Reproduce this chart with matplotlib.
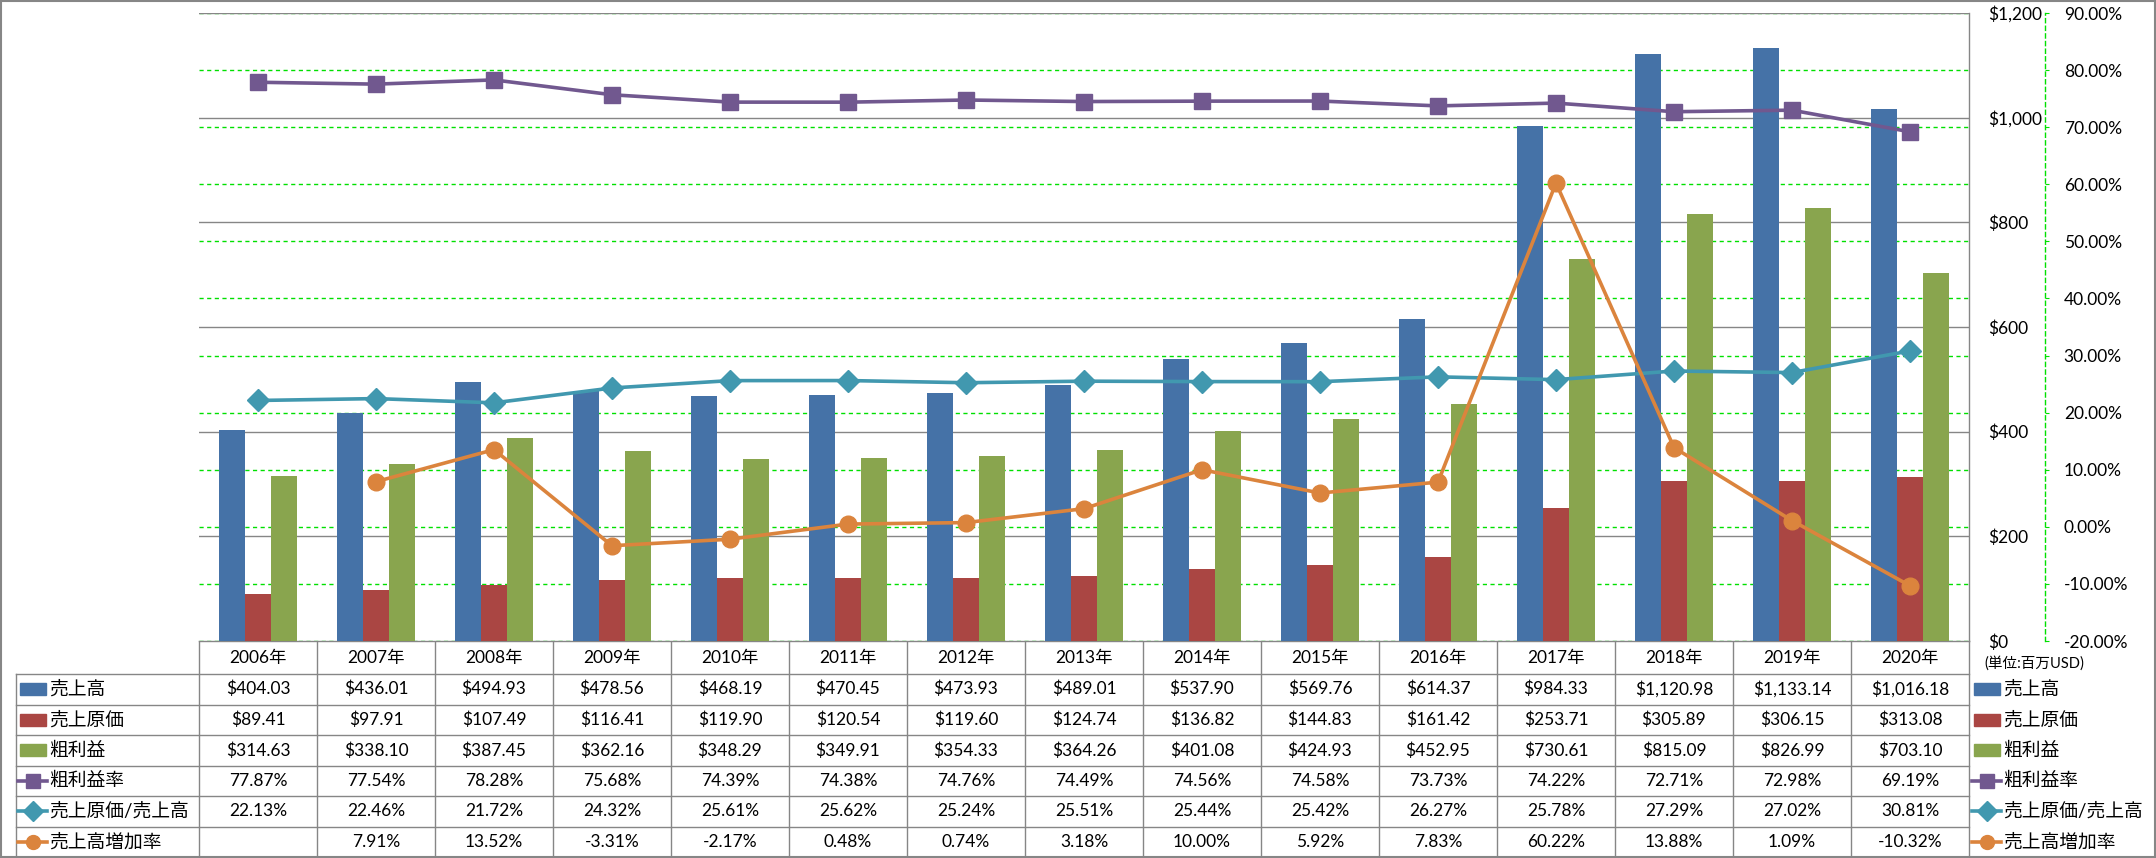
import numpy as np
import matplotlib
matplotlib.use("Agg")
import matplotlib.pyplot as plt
from matplotlib.patches import Rectangle
from matplotlib.lines import Line2D

plt.rcParams['font.family'] = ['Lato', 'Noto Sans CJK JP', 'DejaVu Sans']

years = ["2006年", "2007年", "2008年", "2009年", "2010年", "2011年", "2012年", "2013年",
         "2014年", "2015年", "2016年", "2017年", "2018年", "2019年", "2020年"]
sales = [404.03, 436.01, 494.93, 478.56, 468.19, 470.45, 473.93, 489.01,
         537.90, 569.76, 614.37, 984.33, 1120.98, 1133.14, 1016.18]
cogs = [89.41, 97.91, 107.49, 116.41, 119.90, 120.54, 119.60, 124.74,
        136.82, 144.83, 161.42, 253.71, 305.89, 306.15, 313.08]
gross = [314.63, 338.10, 387.45, 362.16, 348.29, 349.91, 354.33, 364.26,
         401.08, 424.93, 452.95, 730.61, 815.09, 826.99, 703.10]
gm_rate = [77.87, 77.54, 78.28, 75.68, 74.39, 74.38, 74.76, 74.49,
           74.56, 74.58, 73.73, 74.22, 72.71, 72.98, 69.19]
cogs_rate = [22.13, 22.46, 21.72, 24.32, 25.61, 25.62, 25.24, 25.51,
             25.44, 25.42, 26.27, 25.78, 27.29, 27.02, 30.81]
growth = [None, 7.91, 13.52, -3.31, -2.17, 0.48, 0.74, 3.18,
          10.00, 5.92, 7.83, 60.22, 13.88, 1.09, -10.32]

names = ["売上高", "売上原価", "粗利益", "粗利益率", "売上原価/売上高", "売上高増加率"]
usd_ticks = [0, 200, 400, 600, 800, 1000, 1200]
pct_ticks = [-20, -10, 0, 10, 20, 30, 40, 50, 60, 70, 80, 90]

C_BLUE = "#4572A7"
C_RED = "#AA4643"
C_GREEN = "#89A54E"
C_PURPLE = "#71588F"
C_AQUA = "#4198AF"
C_ORANGE = "#DB843D"
GRAY = "#868686"
GRID_GREEN = "#00E000"

W, H = 2156, 858
PL, PR, PT, PB = 199, 1969, 13, 641
LABEL_L = 16
HEAD_H = 33
ROW_H = (857 - PB - HEAD_H) / 6
n = len(years)
colw = (PR - PL) / n
FS = 12.5

fig = plt.figure(figsize=(W / 100, H / 100), dpi=100)

# table / frame layer
tab = fig.add_axes([0, 0, 1, 1])
tab.set_xlim(0, W)
tab.set_ylim(H, 0)
tab.axis('off')
tab.patch.set_visible(False)

ax = fig.add_axes([PL / W, 1 - PB / H, (PR - PL) / W, (PB - PT) / H])
ax2 = ax.twinx()

x = np.arange(n)
bw = 0.222
ax.bar(x - bw, sales, bw, color=C_BLUE, zorder=2)
ax.bar(x, cogs, bw, color=C_RED, zorder=2)
ax.bar(x + bw, gross, bw, color=C_GREEN, zorder=2)

# green dashed gridlines of the % axis, drawn behind bars and gray grid
for p in pct_ticks:
    yy = (p - pct_ticks[0]) / (pct_ticks[-1] - pct_ticks[0]) * usd_ticks[-1]
    ax.axhline(yy, color=GRID_GREEN, lw=1.0, ls=(0, (3, 2.5)), zorder=0.3)

ax.set_xlim(-0.5, n - 0.5)
ax.set_ylim(usd_ticks[0], usd_ticks[-1])
ax.yaxis.tick_right()
ax.set_yticks(usd_ticks, labels=["${:,.0f}".format(v) for v in usd_ticks])
ax.tick_params(axis='y', length=0, pad=13.5, labelsize=FS)
ax.tick_params(axis='x', bottom=False, labelbottom=False)
ax.grid(axis='y', color=GRAY, lw=1.0)
ax.set_axisbelow(True)
for s in ['top', 'left', 'bottom']:
    ax.spines[s].set_visible(False)
ax.spines['right'].set_color(GRAY)
ax.spines['right'].set_linewidth(1.0)

lw = 2.6
ax2.plot(x, gm_rate, color=C_PURPLE, lw=lw, marker='s', ms=12, mec=C_PURPLE, zorder=3)
ax2.plot(x, cogs_rate, color=C_AQUA, lw=lw, marker='D', ms=11.5, mec=C_AQUA, zorder=3)
gr = np.array([np.nan if v is None else v for v in growth])
ax2.plot(x, gr, color=C_ORANGE, lw=lw, marker='o', ms=12, mec=C_ORANGE, zorder=3)

ax2.set_xlim(-0.5, n - 0.5)
ax2.set_ylim(pct_ticks[0], pct_ticks[-1])
ax2.set_yticks(pct_ticks, labels=["{:.2f}%".format(v) for v in pct_ticks])
for lbl, v in zip(ax2.get_yticklabels(), pct_ticks):
    if v < 0:
        lbl.set_color("#FF0000")
ax2.tick_params(axis='y', direction='out', length=3, color=GRID_GREEN, pad=10.5, labelsize=FS)
for s in ['top', 'left', 'bottom']:
    ax2.spines[s].set_visible(False)
ax2.spines['right'].set_position(('outward', 76 * 0.72))
ax2.spines['right'].set_color(GRID_GREEN)
ax2.spines['right'].set_linestyle((0, (3, 2.5)))
ax2.spines['right'].set_linewidth(1.0)

# data table
tl = dict(color=GRAY, lw=1.0)
tab.plot([PL, PR], [PB, PB], **tl)
for r in range(7):
    yy = PB + HEAD_H + r * ROW_H
    tab.plot([LABEL_L, PR], [yy, yy], **tl)
for k in range(n + 1):
    xx = PL + k * colw
    tab.plot([xx, xx], [PB, 857], **tl)
tab.plot([LABEL_L, LABEL_L], [PB + HEAD_H, 857], **tl)

for i, yl in enumerate(years):
    tab.text(PL + (i + 0.5) * colw, PB + HEAD_H / 2, yl, ha='center', va='center', fontsize=FS)

def fmt_usd(v):
    return "${:,.2f}".format(v)

def fmt_pct(v):
    return "" if v is None else "{:.2f}%".format(v)

rows = [(sales, fmt_usd), (cogs, fmt_usd), (gross, fmt_usd),
        (gm_rate, fmt_pct), (cogs_rate, fmt_pct), (growth, fmt_pct)]
styles = [("bar", C_BLUE, None), ("bar", C_RED, None), ("bar", C_GREEN, None),
          ("line", C_PURPLE, 's'), ("line", C_AQUA, 'D'), ("line", C_ORANGE, 'o')]

def draw_key(x0, yc, st):
    kind, col, mk = st
    if kind == "bar":
        tab.add_patch(Rectangle((x0 + 2, yc - 6), 26, 12, color=col))
    else:
        tab.add_line(Line2D([x0, x0 + 29], [yc, yc], color=col, lw=lw))
        tab.add_line(Line2D([x0 + 14.5], [yc], color=col, marker=mk, ms=10, mec=col))

for r, ((vals, f), st) in enumerate(zip(rows, styles)):
    yc = PB + HEAD_H + (r + 0.5) * ROW_H
    draw_key(LABEL_L + 2, yc, st)
    tab.text(LABEL_L + 33, yc, names[r], ha='left', va='center', fontsize=FS + 1)
    for i, v in enumerate(vals):
        tab.text(PL + (i + 0.5) * colw, yc, f(v), ha='center', va='center', fontsize=FS)
    # legend on the right
    draw_key(PR + 3, yc, st)
    tab.text(PR + 34, yc, names[r], ha='left', va='center', fontsize=FS + 1)

tab.text(PR + 15, 663, "(単位:百万USD)", ha='left', va='center', fontsize=10.5)

tab.add_patch(Rectangle((1, 1), W - 2, H - 2, fill=False, ec=GRAY, lw=1.5))

fig.savefig("out.png", dpi=100)
